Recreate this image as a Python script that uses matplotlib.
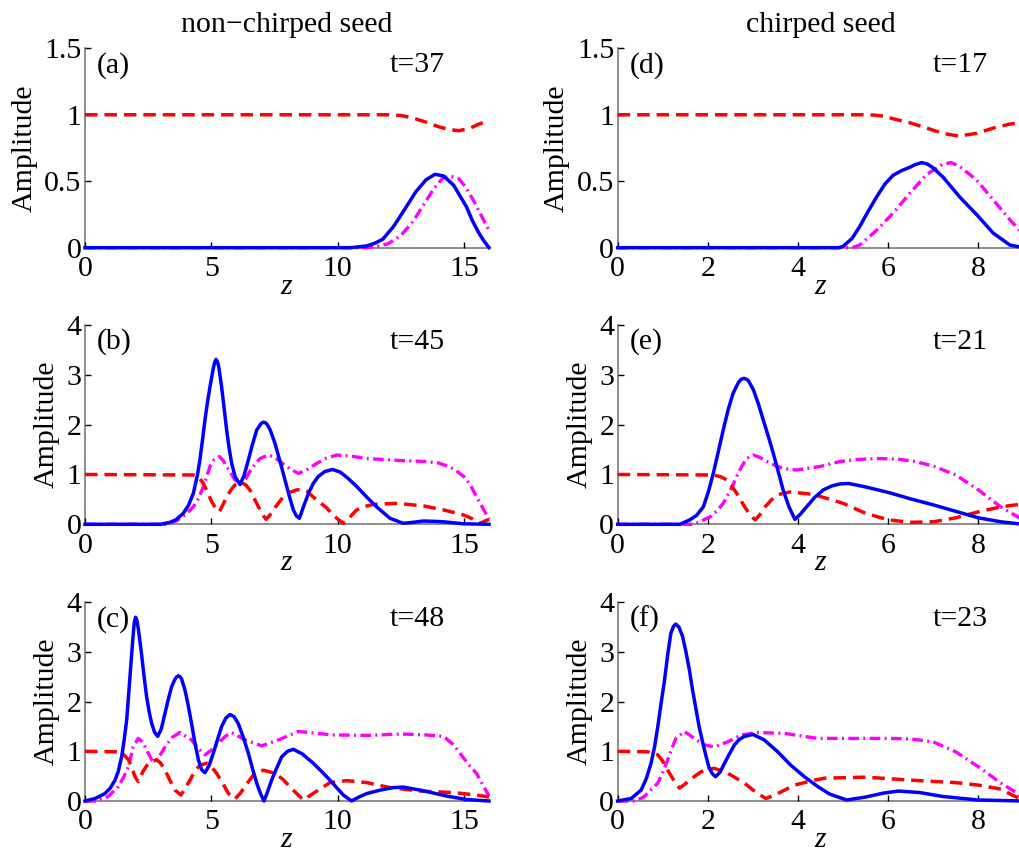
import matplotlib
matplotlib.use("Agg")
import matplotlib.pyplot as plt

plt.rcParams['font.family'] = ['Liberation Serif', 'DejaVu Serif']
plt.rcParams['mathtext.fontset'] = 'custom'
plt.rcParams['mathtext.it'] = 'Liberation Serif:italic'

# ---------------- data ----------------
# panel (a)  non-chirped, t=37
a_blue_z = [0, 10.5, 11.15, 11.5, 11.8, 12.2, 12.48, 12.8, 13.1, 13.5, 13.86, 14.2, 14.6, 15.1, 15.35, 15.6, 15.8, 16.0]
a_blue_v = [0, 0.0, 0.013, 0.035, 0.065, 0.155, 0.235, 0.33, 0.42, 0.51, 0.552, 0.54, 0.47, 0.31, 0.2, 0.11, 0.05, 0.0]
a_red_z = [0, 12.0, 12.5, 13.0, 13.5, 14.0, 14.4, 14.8, 15.2, 15.6, 16.0]
a_red_v = [1, 1, 0.995, 0.975, 0.945, 0.91, 0.89, 0.88, 0.895, 0.93, 0.955]
a_mag_z = [0, 11.2, 11.6, 12.0, 12.5, 13.0, 13.4, 13.8, 14.15, 14.45, 14.8, 15.1, 15.4, 15.7, 16.0]
a_mag_v = [0, 0, 0.01, 0.03, 0.09, 0.2, 0.32, 0.44, 0.52, 0.54, 0.52, 0.45, 0.35, 0.24, 0.13]

# panel (b)  non-chirped, t=45
b_blue_z = [0, 3.0, 3.37, 3.6, 3.89, 4.1, 4.29, 4.45, 4.55, 4.65, 4.75, 4.85, 4.95, 5.07, 5.13, 5.19, 5.25, 5.3,
            5.41, 5.51, 5.61, 5.71, 5.81, 5.95, 6.14, 6.3, 6.47, 6.63, 6.8, 6.97, 7.06, 7.14, 7.22, 7.33, 7.52,
            7.72, 7.92, 8.1, 8.25, 8.37, 8.49, 8.65, 8.85, 9.04, 9.24, 9.5, 9.8, 10.1, 10.4, 10.76,
            11.15, 11.55, 12.08, 12.6, 13.0, 13.4, 13.8, 14.2, 14.6, 15.0, 16.0]
b_blue_v = [0, 0, 0.04, 0.09, 0.22, 0.38, 0.62, 0.98, 1.29, 1.68, 2.09, 2.45, 2.76, 3.1, 3.24, 3.31, 3.26, 3.15,
            2.76, 2.33, 1.89, 1.52, 1.22, 0.95, 0.8, 0.98, 1.29, 1.6, 1.89, 2.02, 2.05, 2.04, 2.0, 1.9, 1.63,
            1.27, 0.89, 0.55, 0.29, 0.17, 0.12, 0.35, 0.62, 0.82, 0.96, 1.06, 1.1, 1.05, 0.93, 0.76,
            0.55, 0.35, 0.12, 0.02, 0.04, 0.066, 0.06, 0.05, 0.03, 0.01, 0.0]
b_red_z = [0, 4.3, 4.5, 4.69, 4.85, 5.02, 5.17, 5.32, 5.47, 5.61, 5.78, 5.94, 6.2, 6.37, 6.53, 6.7,
           6.87, 7.02, 7.17, 7.3, 7.46, 7.65, 7.85, 8.1, 8.38, 8.6, 8.77, 9.17, 9.57, 9.85, 10.23,
           10.5, 10.76, 11.1, 11.42, 12.34, 13.4, 14.19, 14.98, 15.3, 15.64, 16.0]
b_red_v = [1, 0.99, 0.95, 0.82, 0.65, 0.45, 0.33, 0.25, 0.4, 0.55, 0.69, 0.79, 0.84, 0.79, 0.69, 0.52,
           0.35, 0.2, 0.1, 0.17, 0.29, 0.42, 0.55, 0.64, 0.69, 0.7, 0.67, 0.49, 0.33, 0.17, 0.02,
           0.15, 0.29, 0.36, 0.4, 0.42, 0.37, 0.29, 0.19, 0.12, 0.02, 0.1]
b_mag_z = [0, 3.2, 3.63, 4.0, 4.29, 4.5, 4.69, 4.82, 4.95, 5.12, 5.32, 5.47, 5.61, 5.78, 5.94, 6.2,
           6.37, 6.53, 6.73, 6.93, 7.26, 7.5, 7.72, 8.1, 8.45, 8.8, 9.17, 9.57, 9.97, 10.5, 11.15,
           12.5, 13.5, 14.0, 14.4, 14.7, 15.0, 15.25, 15.5, 15.75, 16.0]
b_mag_v = [0, 0, 0.07, 0.2, 0.35, 0.52, 0.76, 0.96, 1.16, 1.3, 1.36, 1.28, 1.16, 1.02, 0.89, 0.82,
           0.92, 1.06, 1.2, 1.32, 1.39, 1.35, 1.26, 1.12, 1.02, 1.1, 1.22, 1.33, 1.39, 1.37, 1.32,
           1.28, 1.26, 1.23, 1.16, 1.08, 0.96, 0.8, 0.56, 0.33, 0.1]

# panel (c)  non-chirped, t=48
c_blue_z = [0, 0.4, 0.79, 1.0, 1.19, 1.32, 1.45, 1.55, 1.65, 1.73, 1.81, 1.9, 1.95, 2.0, 2.05, 2.11, 2.22, 2.33,
            2.44, 2.54, 2.64, 2.76, 2.88, 3.02, 3.17, 3.3, 3.43, 3.56, 3.63, 3.7, 3.77, 3.83, 3.96, 4.09, 4.22,
            4.35, 4.49, 4.62, 4.75, 4.92, 5.08, 5.25, 5.41, 5.58, 5.74, 5.9, 6.07, 6.27, 6.47, 6.64,
            6.8, 6.95, 7.09, 7.24, 7.39, 7.59, 7.79, 8.02, 8.25, 8.6, 9.04, 9.4, 9.7, 10.0, 10.23,
            10.56, 10.85, 11.16, 11.7, 12.21, 12.6, 13.27, 13.8, 14.32, 15.1, 16.0]
c_blue_v = [0, 0.05, 0.15, 0.26, 0.42, 0.6, 0.89, 1.22, 1.63, 2.15, 2.7, 3.3, 3.58, 3.7, 3.65, 3.47, 3.04, 2.55,
            2.1, 1.8, 1.56, 1.38, 1.3, 1.45, 1.77, 2.05, 2.3, 2.45, 2.5, 2.52, 2.5, 2.45, 2.23, 1.92, 1.56,
            1.18, 0.83, 0.63, 0.57, 0.72, 0.96, 1.24, 1.5, 1.67, 1.74, 1.7, 1.56, 1.28, 0.96, 0.64,
            0.36, 0.15, 0.0, 0.2, 0.42, 0.66, 0.89, 1.0, 1.04, 0.95, 0.76, 0.58, 0.42, 0.25, 0.12,
            0.0, 0.08, 0.15, 0.22, 0.27, 0.28, 0.22, 0.16, 0.1, 0.03, 0.0]
c_red_z = [0, 1.32, 1.52, 1.72, 1.85, 1.98, 2.11, 2.3, 2.51, 2.84, 3.0, 3.17, 3.36, 3.56, 3.8, 3.98,
           4.16, 4.35, 4.55, 4.82, 5.02, 5.21, 5.45, 5.68, 5.94, 6.14, 6.34, 6.53, 6.73, 7.06, 7.52,
           7.85, 8.2, 8.65, 9.18, 9.7, 10.36, 11.16, 12.08, 13.27, 14.59, 15.51, 16.0]
c_red_v = [1, 0.99, 0.94, 0.83, 0.68, 0.49, 0.39, 0.6, 0.76, 0.83, 0.76, 0.62, 0.42, 0.22, 0.12, 0.27,
           0.42, 0.6, 0.72, 0.76, 0.68, 0.56, 0.36, 0.15, 0.04, 0.15, 0.29, 0.43, 0.56, 0.62, 0.56,
           0.43, 0.24, 0.02, 0.2, 0.37, 0.41, 0.37, 0.27, 0.2, 0.17, 0.12, 0.08]
c_mag_z = [0, 0.4, 0.92, 1.32, 1.52, 1.72, 1.91, 2.11, 2.25, 2.38, 2.64, 2.77, 2.97, 3.17, 3.45, 3.76,
           4.22, 4.5, 4.75, 5.0, 5.28, 5.55, 5.81, 6.34, 7.0, 7.66, 8.45, 9.8, 11.2, 12.5, 13.5,
           14.2, 14.6, 15.0, 15.25, 15.5, 15.75, 16.0]
c_mag_v = [0, 0, 0.09, 0.29, 0.47, 0.69, 1.09, 1.26, 1.2, 1.09, 0.83, 0.79, 0.92, 1.09, 1.28, 1.38,
           1.23, 1.05, 0.93, 1.02, 1.16, 1.3, 1.38, 1.23, 1.11, 1.23, 1.4, 1.33, 1.32, 1.35, 1.33,
           1.3, 1.13, 0.86, 0.7, 0.56, 0.33, 0.1]

# panel (d)  chirped, t=17
d_blue_z = [0, 4.9, 5.0, 5.2, 5.37, 5.55, 5.74, 5.93, 6.11, 6.3, 6.48, 6.6, 6.74, 6.87, 7.0, 7.22, 7.59, 7.96, 8.33, 8.7, 9.0]
d_blue_v = [0, 0, 0.01, 0.07, 0.16, 0.27, 0.38, 0.48, 0.545, 0.58, 0.605, 0.625, 0.64, 0.63, 0.6, 0.53, 0.38, 0.25, 0.11, 0.02, 0.0]
d_red_z = [0, 5.6, 5.9, 6.11, 6.48, 6.85, 7.22, 7.56, 7.96, 8.33, 8.7, 9.0]
d_red_v = [1, 1, 0.99, 0.97, 0.94, 0.9, 0.86, 0.84, 0.86, 0.9, 0.93, 0.945]
d_mag_z = [0, 5.2, 5.37, 5.74, 6.11, 6.48, 6.85, 7.22, 7.4, 7.59, 7.96, 8.33, 8.7, 9.0]
d_mag_v = [0, 0, 0.02, 0.13, 0.26, 0.41, 0.55, 0.63, 0.64, 0.61, 0.51, 0.36, 0.21, 0.1]

# panel (e)  chirped, t=21
e_blue_z = [0, 1.38, 1.6, 1.75, 1.9, 2.01, 2.12, 2.23, 2.34, 2.45, 2.56, 2.68, 2.74, 2.8, 2.86, 2.9, 3.01, 3.12,
            3.23, 3.34, 3.45, 3.56, 3.67, 3.8, 3.93, 4.05, 4.19, 4.37, 4.56, 4.75, 4.93, 5.12, 5.5,
            6.0, 6.5, 7.0, 7.5, 8.0, 8.5, 9.0]
e_blue_v = [0, 0, 0.09, 0.18, 0.35, 0.65, 1.02, 1.45, 1.89, 2.3, 2.63, 2.85, 2.91, 2.93, 2.91, 2.88, 2.7, 2.42,
            2.09, 1.77, 1.43, 1.06, 0.69, 0.35, 0.1, 0.2, 0.35, 0.54, 0.69, 0.77, 0.81, 0.82, 0.75,
            0.64, 0.51, 0.39, 0.26, 0.13, 0.05, 0.0]
e_red_z = [0, 2.12, 2.3, 2.42, 2.53, 2.64, 2.75, 2.86, 2.96, 3.05, 3.16, 3.27, 3.4, 3.53, 3.82, 4.34,
           4.86, 5.0, 5.5, 6.0, 6.5, 7.0, 7.5, 8.0, 8.5, 9.0]
e_red_v = [1, 0.99, 0.95, 0.89, 0.77, 0.62, 0.45, 0.29, 0.16, 0.09, 0.2, 0.35, 0.48, 0.59, 0.65, 0.6,
           0.46, 0.42, 0.22, 0.09, 0.04, 0.05, 0.13, 0.25, 0.35, 0.41]
e_mag_z = [0, 1.7, 2.05, 2.2, 2.34, 2.5, 2.64, 2.75, 2.86, 3.01, 3.16, 3.31, 3.5, 3.67, 3.97, 4.49,
           4.93, 5.3, 5.74, 6.2, 6.6, 7.0, 7.5, 8.0, 8.5, 9.0]
e_mag_v = [0, 0, 0.15, 0.27, 0.42, 0.68, 0.96, 1.16, 1.32, 1.39, 1.34, 1.26, 1.18, 1.12, 1.09, 1.16,
           1.26, 1.3, 1.32, 1.31, 1.26, 1.17, 0.99, 0.69, 0.35, 0.08]

# panel (f)  chirped, t=23
f_blue_z = [0, 0.3, 0.52, 0.63, 0.74, 0.82, 0.89, 0.96, 1.04, 1.11, 1.18, 1.24, 1.29, 1.36, 1.44, 1.51,
            1.59, 1.66, 1.74, 1.81, 1.89, 1.96, 2.03, 2.1, 2.17, 2.27, 2.37, 2.48, 2.59, 2.7, 2.81,
            3.0, 3.25, 3.55, 3.84, 4.14, 4.44, 4.7, 5.08, 5.5, 5.9, 6.23, 6.7, 7.22, 8.0, 9.0]
f_blue_v = [0, 0.05, 0.22, 0.44, 0.76, 1.1, 1.5, 1.95, 2.44, 2.95, 3.38, 3.52, 3.56, 3.5, 3.31, 3.02,
            2.64, 2.24, 1.83, 1.48, 1.16, 0.9, 0.66, 0.55, 0.49, 0.58, 0.76, 0.95, 1.13, 1.24, 1.3,
            1.34, 1.23, 0.99, 0.72, 0.49, 0.29, 0.14, 0.02, 0.08, 0.16, 0.2, 0.17, 0.09, 0.02, 0.0]
f_red_z = [0, 0.67, 0.89, 1.0, 1.11, 1.26, 1.37, 1.48, 1.59, 1.85, 2.14, 2.44, 2.81, 3.1, 3.29, 3.55,
           3.92, 4.36, 4.6, 5.5, 6.5, 7.5, 8.0, 8.5, 8.75, 9.0]
f_red_v = [1, 0.99, 0.93, 0.8, 0.62, 0.39, 0.26, 0.33, 0.42, 0.59, 0.66, 0.56, 0.36, 0.15, 0.05, 0.15,
           0.32, 0.42, 0.46, 0.48, 0.42, 0.37, 0.32, 0.24, 0.12, 0.02]
f_mag_z = [0, 0.4, 0.59, 0.89, 1.0, 1.11, 1.2, 1.29, 1.48, 1.7, 1.92, 2.14, 2.44, 2.74, 3.1, 3.7,
           4.44, 5.0, 6.0, 6.5, 7.0, 7.5, 8.0, 8.5, 9.0]
f_mag_v = [0, 0, 0.09, 0.36, 0.58, 0.83, 1.05, 1.26, 1.4, 1.26, 1.13, 1.09, 1.19, 1.33, 1.38, 1.36,
           1.26, 1.26, 1.26, 1.25, 1.19, 0.99, 0.69, 0.36, 0.08]

panel_labels = ['(a)', '(b)', '(c)', '(d)', '(e)', '(f)']
time_labels = ['t=37', 't=45', 't=48', 't=17', 't=21', 't=23']
column_titles = ['non\u2212chirped seed', 'chirped seed']
y_ticks_top = [0, 0.5, 1, 1.5]
y_tick_labels_top = ['0', '0.5', '1', '1.5']
y_ticks_low = [0, 1, 2, 3, 4]
x_ticks_left = [0, 5, 10, 15]
x_ticks_right = [0, 2, 4, 6, 8]

panels = [
    (a_blue_z, a_blue_v, a_red_z, a_red_v, a_mag_z, a_mag_v),
    (b_blue_z, b_blue_v, b_red_z, b_red_v, b_mag_z, b_mag_v),
    (c_blue_z, c_blue_v, c_red_z, c_red_v, c_mag_z, c_mag_v),
    (d_blue_z, d_blue_v, d_red_z, d_red_v, d_mag_z, d_mag_v),
    (e_blue_z, e_blue_v, e_red_z, e_red_v, e_mag_z, e_mag_v),
    (f_blue_z, f_blue_v, f_red_z, f_red_v, f_mag_z, f_mag_v),
]

# ---------------- layout ----------------
W, H = 1019, 859
fig = plt.figure(figsize=(W / 100, H / 100), dpi=100)

col_x = [85, 617.7]
col_w = [404, 405.7]
row_top = [48.3, 325.0, 602.3]
row_bot = [247.7, 524.3, 801.0]

FS = 21.5
grey = '#7a7a7a'

for idx, data in enumerate(panels):
    col = idx // 3
    row = idx % 3
    x0 = col_x[col] / W
    w = col_w[col] / W
    y0 = 1 - row_bot[row] / H
    h = (row_bot[row] - row_top[row]) / H
    ax = fig.add_axes([x0, y0, w, h])
    bz, bv, rz, rv, mz, mv = data

    ax.plot(mz, mv, color='#ff00ff', lw=2.4, dashes=(3.2, 1.3, 0.6, 1.3), clip_on=False, zorder=3)
    ax.plot(rz, rv, color='#ff0000', lw=2.5, dashes=(3.6, 2.0), clip_on=False, zorder=4)
    ax.plot(bz, bv, color='#0000ff', lw=2.5, clip_on=False, zorder=5,
            solid_joinstyle='round')

    if col == 0:
        ax.set_xlim(0, 16)
        ax.set_xticks(x_ticks_left)
        tx = 0.755
    else:
        ax.set_xlim(0, 9)
        ax.set_xticks(x_ticks_right)
        tx = 0.777
    if row == 0:
        ax.set_ylim(0, 1.5)
        ax.set_yticks(y_ticks_top)
        ax.set_yticklabels(y_tick_labels_top)
        ax.set_title(column_titles[col], fontsize=FS, pad=12)
    else:
        ax.set_ylim(0, 4)
        ax.set_yticks(y_ticks_low)

    for s in ['top', 'right']:
        ax.spines[s].set_visible(False)
    for s in ['left', 'bottom']:
        ax.spines[s].set_color(grey)
        ax.spines[s].set_linewidth(1.2)
        ax.spines[s].set_zorder(1)
    ax.tick_params(direction='in', length=4, width=1, color='black', labelsize=FS)
    ax.tick_params(axis='x', pad=6)
    ax.tick_params(axis='y', pad=2.5)
    ax.set_xlabel('$z$', fontsize=FS, labelpad=-6)
    ax.set_ylabel('Amplitude', fontsize=FS, labelpad=5)
    ax.patch.set_alpha(0)

    ax.text(0.03, 0.915, panel_labels[idx], transform=ax.transAxes, fontsize=FS,
            ha='left', va='center')
    ax.text(tx, 0.915, time_labels[idx], transform=ax.transAxes, fontsize=FS,
            ha='left', va='center')

fig.savefig('out.png', dpi=100)
